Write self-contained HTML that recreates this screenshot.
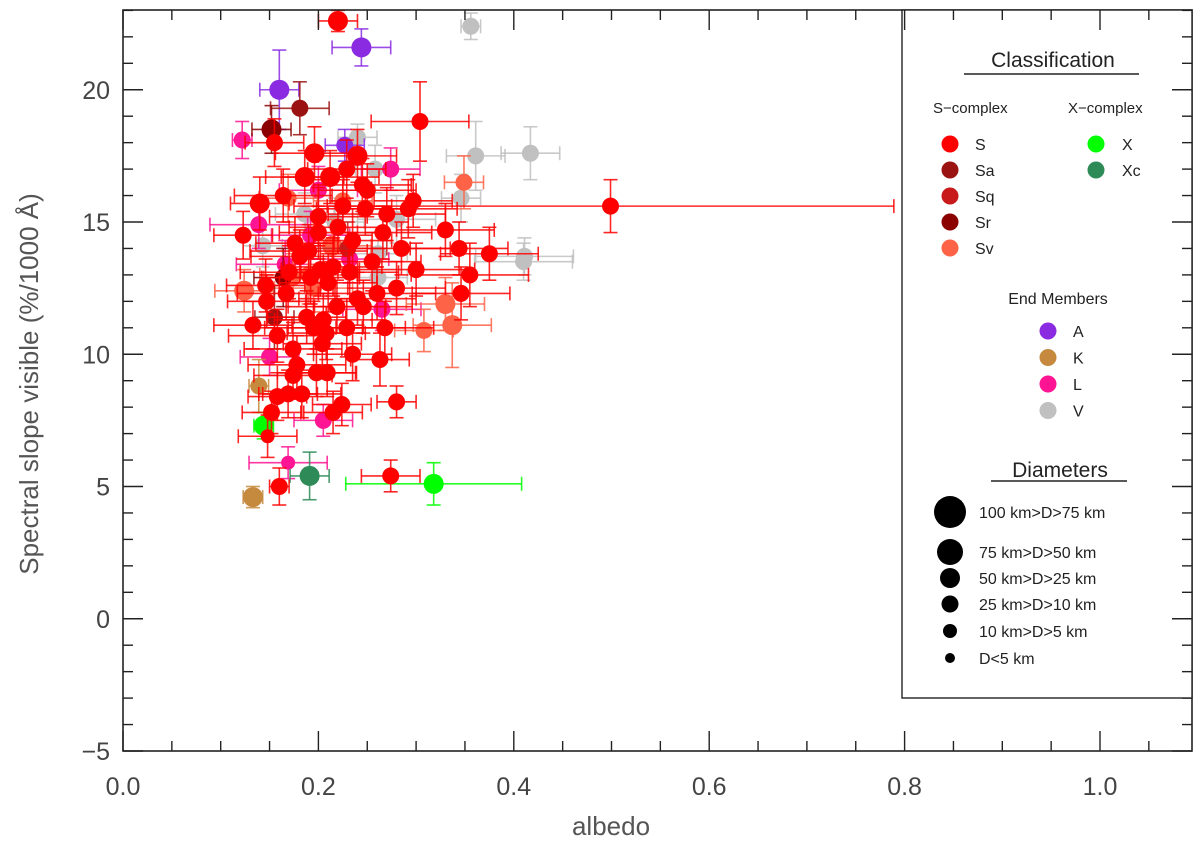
<!DOCTYPE html>
<html><head><meta charset="utf-8"><style>
html,body{margin:0;padding:0;background:#fff;}
svg{display:block;font-family:"Liberation Sans",sans-serif;}
</style></head><body>
<svg id="chart" width="1200" height="845" viewBox="0 0 1200 845" xmlns="http://www.w3.org/2000/svg">
<g id="marks"></g>
<g id="axes"></g>
<g id="legend"></g>
</svg>
<script>
const xTicks=[0.0,0.2,0.4,0.6,0.8,1.0];
const xTickLabels=["0.0","0.2","0.4","0.6","0.8","1.0"];
const yTicks=[-5,0,5,10,15,20];
const yTickLabels=["\u22125","0","5","10","15","20"];
const classNames=["S","Sa","Sq","Sr","Sv","X","Xc","A","K","L","V"];
const classColors=["#ff0000","#9b1212","#c81a1a","#8b0000","#ff6347","#00ff00","#2e8b57","#8a2be2","#c68a3e","#ff1493","#c0c0c0"];
const sizeLabels=["100 km>D>75 km","75 km>D>50 km","50 km>D>25 km","25 km>D>10 km","10 km>D>5 km","D<5 km"];
const ptClass=["V","V","V","V","V","V","V","V","V","V","V","V","V","V",
"L","L","L","L","L","L","L","L","L","L","L",
"A","A","A","K","K","X","X","Xc",
"Sv","Sv","Sv","Sv","Sv","Sv","Sv","Sv","Sv","Sv","Sv",
"Sa","Sa","Sr","Sr","Sq",
"S","S","S","S","S","S","S","S","S","S","S","S","S","S","S","S","S","S","S","S","S","S","S","S","S","S","S","S","S","S","S","S","S","S","S","S","S","S","S","S","S","S","S","S","S","S","S","S","S","S","S","S","S","S","S","S","S","S","S","S","S","S","S","S","S","S","S","S","S","S","S","S","S","S","S","S","S","S","S","S","S"];
const albedo=[0.356,0.24,0.361,0.417,0.258,0.346,0.411,0.41,0.186,0.217,0.143,0.261,0.28,0.261,
0.122,0.274,0.139,0.192,0.265,0.15,0.232,0.166,0.169,0.205,0.2,
0.16,0.244,0.227,0.139,0.133,0.144,0.318,0.191,
0.169,0.214,0.124,0.195,0.174,0.33,0.337,0.308,0.349,0.19,0.225,
0.181,0.155,0.152,0.164,0.23,
0.22,0.304,0.196,0.24,0.186,0.212,0.229,0.14,0.164,0.297,0.292,0.248,0.2,0.33,0.123,0.344,0.375,0.355,0.346,0.266,0.235,0.181,0.215,0.202,0.232,0.146,0.147,0.167,0.188,0.205,0.219,0.246,0.28,0.133,0.158,0.195,0.229,0.268,0.174,0.204,0.235,0.263,0.174,0.198,0.209,0.158,0.169,0.183,0.224,0.28,0.152,0.215,0.499,0.274,0.16,0.148,0.155,0.176,0.25,0.21,0.19,0.225,0.255,0.24,0.2,0.178,0.27,0.285,0.208,0.245,0.17,0.192,0.22,0.26,0.3];
const slope=[22.4,18.2,17.5,17.6,17.0,15.9,13.7,13.5,15.3,15.0,14.1,12.9,15.1,13.8,
18.1,17.0,14.9,14.5,11.7,9.9,13.6,13.4,5.9,7.5,16.2,
20.0,21.6,17.9,8.8,4.6,7.3,5.1,5.4,
15.9,14.1,12.4,12.5,12.9,11.9,11.1,10.9,16.5,13.0,15.8,
19.3,11.4,18.5,12.9,14.0,
22.6,18.8,17.6,17.5,16.7,16.7,17.0,15.7,16.0,15.8,15.5,15.5,15.2,14.7,14.5,14.0,13.8,13.0,12.3,14.6,14.3,13.7,13.3,13.2,13.1,12.6,12.0,12.3,11.4,11.3,11.8,11.8,12.5,11.1,10.7,11.0,11.0,11.0,10.2,10.4,10.0,9.8,9.2,9.3,9.3,8.4,8.5,8.5,8.1,8.2,7.8,7.8,15.6,5.4,5.0,6.9,18.0,14.2,16.2,12.7,13.9,15.6,13.5,12.1,14.6,9.6,15.3,14.0,10.8,16.4,13.1,12.9,14.8,12.3,13.2];
const xErr=[0.01,0.02,0.03,0.03,0.02,0.02,0.05,0.05,0.03,0.03,0.02,0.03,0.04,0.03,
0.01,0.03,0.05,0.04,0.04,0.03,0.04,0.05,0.04,0.03,0.04,
0.02,0.03,0.02,0.01,0.01,0.01,0.09,0.02,
0.03,0.04,0.03,0.04,0.03,0.04,0.04,0.03,0.02,0.05,0.03,
0.03,0.02,0.02,0.03,0.04,
0.02,0.05,0.04,0.04,0.04,0.05,0.04,0.03,0.05,0.04,0.05,0.05,0.05,0.05,0.03,0.05,0.05,0.06,0.05,0.05,0.04,0.05,0.05,0.04,0.05,0.04,0.04,0.05,0.04,0.05,0.05,0.05,0.05,0.04,0.05,0.05,0.06,0.05,0.05,0.04,0.04,0.03,0.04,0.04,0.03,0.03,0.03,0.04,0.03,0.02,0.03,0.03,0.29,0.03,0.01,0.03,0.03,0.04,0.05,0.05,0.06,0.05,0.05,0.06,0.04,0.05,0.06,0.05,0.04,0.05,0.05,0.05,0.05,0.06,0.06];
const yErr=[0.5,0.5,1.3,1.0,0.9,0.9,0.7,0.7,0.8,0.9,0.8,0.8,0.9,0.8,
0.7,0.8,0.9,0.9,0.8,0.7,0.9,0.9,0.6,0.6,0.9,
1.5,0.7,0.6,1.0,0.4,0.5,0.8,0.9,
0.9,1.0,0.8,0.9,0.9,1.0,1.6,0.8,1.0,1.1,1.0,
1.0,1.2,0.9,1.1,1.0,
0.4,1.5,1.0,1.0,1.0,1.0,1.1,1.0,1.0,1.0,1.1,1.0,1.1,1.0,0.9,1.0,1.0,1.2,1.0,1.0,1.2,1.0,1.1,1.0,1.1,1.0,1.0,1.0,1.0,1.0,1.0,1.0,1.0,0.9,1.0,1.0,1.1,1.0,1.0,1.0,1.0,1.0,0.9,0.9,0.9,0.9,0.9,0.9,0.8,0.6,0.8,0.8,1.0,0.6,0.7,0.8,0.9,1.0,1.0,1.1,1.0,1.0,1.1,1.0,1.0,1.1,1.0,1.0,1.0,1.0,1.0,1.0,1.0,1.0,1.0];
const sizeClass=[3,3,3,3,3,3,3,3,3,3,3,3,3,3,
3,3,3,3,3,3,3,3,4,3,3,
2,2,3,3,2,2,2,2,
3,2,2,3,3,2,2,3,3,3,3,
3,3,2,3,3,
2,3,2,2,2,2,3,2,3,3,3,3,3,3,3,3,3,3,3,3,3,3,3,3,3,3,3,3,3,3,3,3,3,3,3,3,3,3,3,3,3,3,3,3,3,3,3,3,3,3,3,3,3,3,3,4,3,3,3,3,3,3,3,3,3,3,3,3,3,3,3,3,3,3,3];
const sizeRadii=[16,13,10,8.5,7,5];

const NS="http://www.w3.org/2000/svg";
const X0=123,X1=1192,Y0=10,Y1=751;
const xMin=0,xMax=(X1-X0)/977,yMin=-5,yMax=-5+(Y1-Y0)/26.45;
function sx(v){return X0+(v-xMin)/(xMax-xMin)*(X1-X0);}
function sy(v){return Y1-(v-yMin)/(yMax-yMin)*(Y1-Y0);}
function mk(tag,attrs,parent){const e=document.createElementNS(NS,tag);for(const k in attrs)e.setAttribute(k,attrs[k]);parent.appendChild(e);return e;}
function colorOf(c){const k=classNames.indexOf(c);return k<0?"#ff0000":classColors[k];}

const marks=document.getElementById('marks');
const nPts=Math.min(ptClass.length,albedo.length,slope.length,xErr.length,yErr.length,sizeClass.length);
for(let i=0;i<nPts;i++){
  const g=mk('g',{},marks);
  
  
  const col=colorOf(ptClass[i]);
  const cx=sx(albedo[i]),cy=sy(slope[i]);
  const xl=sx(albedo[i]-xErr[i]),xr=sx(albedo[i]+xErr[i]);
  const ytop=sy(slope[i]+yErr[i]),ybot=sy(slope[i]-yErr[i]);
  const st={stroke:col,'stroke-width':1.6,'stroke-opacity':0.85};
  mk('line',Object.assign({x1:xl,y1:cy,x2:xr,y2:cy},st),g);
  mk('line',Object.assign({x1:cx,y1:ytop,x2:cx,y2:ybot},st),g);
  mk('line',Object.assign({x1:xl,y1:cy-7,x2:xl,y2:cy+7},st),g);
  mk('line',Object.assign({x1:xr,y1:cy-7,x2:xr,y2:cy+7},st),g);
  mk('line',Object.assign({x1:cx-7,y1:ytop,x2:cx+7,y2:ytop},st),g);
  mk('line',Object.assign({x1:cx-7,y1:ybot,x2:cx+7,y2:ybot},st),g);
  mk('circle',{cx:cx,cy:cy,r:sizeRadii[sizeClass[i]]||8.5,fill:col},g);
}

const ax=document.getElementById('axes');
const frame=mk('rect',{x:X0,y:Y0,width:X1-X0,height:Y1-Y0,fill:'none',stroke:'#222','stroke-width':1.6},ax);


for(let k=0;k*0.05<=xMax+1e-9;k++){
  const v=k*0.05; const L=(k%4===0)?20:10; const x=sx(v);
  mk('line',{x1:x,y1:Y1,x2:x,y2:Y1-L,stroke:'#222','stroke-width':1.4},ax);
  mk('line',{x1:x,y1:Y0,x2:x,y2:Y0+L,stroke:'#222','stroke-width':1.4},ax);
}
for(let v=-5;v<=yMax;v+=1){
  const L=(((v%5)+5)%5===0)?20:10; const y=sy(v);
  mk('line',{x1:X0,y1:y,x2:X0+L,y2:y,stroke:'#222','stroke-width':1.4},ax);
  mk('line',{x1:X1,y1:y,x2:X1-L,y2:y,stroke:'#222','stroke-width':1.4},ax);
}
xTicks.forEach((v,i)=>{
  const t=mk('text',{x:sx(v),y:795,'text-anchor':'middle','font-size':25,fill:'#444'},ax);
  t.textContent=xTickLabels[i];
  
  
});
yTicks.forEach((v,i)=>{
  const t=mk('text',{x:110,y:sy(v)+9,'text-anchor':'end','font-size':25,fill:'#444'},ax);
  t.textContent=yTickLabels[i];
  
  
});
const xTitle=mk('text',{x:611,y:835,'text-anchor':'middle','font-size':26,fill:'#555'},ax);
xTitle.textContent='albedo';


const yTitle=mk('text',{x:0,y:0,'text-anchor':'middle','font-size':26,fill:'#555',transform:'translate(38,384) rotate(-90)'},ax);
yTitle.textContent='Spectral slope visible (%/1000 \u00C5)';



const lg=document.getElementById('legend');
const box=mk('rect',{x:902,y:Y0,width:X1-902,height:698-Y0,fill:'#fff',stroke:'#222','stroke-width':1.4},lg);


for(let v=-5;v<=yMax;v+=1){const y=sy(v);if(y>698)continue;const L=(((v%5)+5)%5===0)?20:10;mk('line',{x1:X1,y1:y,x2:X1-L,y2:y,stroke:'#222','stroke-width':1.4},lg);}
for(let k=16;k*0.05<=xMax+1e-9;k++){const x=sx(k*0.05);mk('line',{x1:x,y1:Y0,x2:x,y2:Y0+((k%4===0)?20:10),stroke:'#222','stroke-width':1.4},lg);}
function txt(s,x,y,size,anchor,name){const t=mk('text',{x:x,y:y,'font-size':size,fill:'#222','text-anchor':anchor||'start'},lg);t.textContent=s;return t;}
txt('Classification',1053,67,21,'middle','legend-title-classification');
mk('line',{x1:964,y1:74,x2:1139,y2:74,stroke:'#222','stroke-width':1.5},lg);
txt('S\u2212complex',933,113,15,'start','legend-s-complex');
txt('X\u2212complex',1068,113,15,'start','legend-x-complex');
["S","Sa","Sq","Sr","Sv"].forEach((c,i)=>{const y=144+i*26;const g=mk('g',{},lg);


mk('circle',{cx:950,cy:y,r:8.5,fill:colorOf(c)},g);const t=mk('text',{x:975,y:y+6,'font-size':16,fill:'#222'},g);t.textContent=c;});
["X","Xc"].forEach((c,i)=>{const y=144+i*26;const g=mk('g',{},lg);


mk('circle',{cx:1096,cy:y,r:8.5,fill:colorOf(c)},g);const t=mk('text',{x:1122,y:y+6,'font-size':16,fill:'#222'},g);t.textContent=c;});
txt('End Members',1058,304,16,'middle','legend-title-end-members');
["A","K","L","V"].forEach((c,i)=>{const y=331+i*26.5;const g=mk('g',{},lg);


mk('circle',{cx:1048,cy:y,r:8.5,fill:colorOf(c)},g);const t=mk('text',{x:1073,y:y+6,'font-size':16,fill:'#222'},g);t.textContent=c;});
txt('Diameters',1060,477,21,'middle','legend-title-diameters');
mk('line',{x1:991,y1:481,x2:1127,y2:481,stroke:'#222','stroke-width':1.5},lg);
const sizeY=[512,552,578,604,631,658];
sizeLabels.forEach((s,i)=>{const g=mk('g',{},lg);


mk('circle',{cx:950,cy:sizeY[i],r:sizeRadii[i],fill:'#000'},g);const t=mk('text',{x:979,y:sizeY[i]+6,'font-size':16,fill:'#222'},g);t.textContent=s;});
</script>
</body></html>
